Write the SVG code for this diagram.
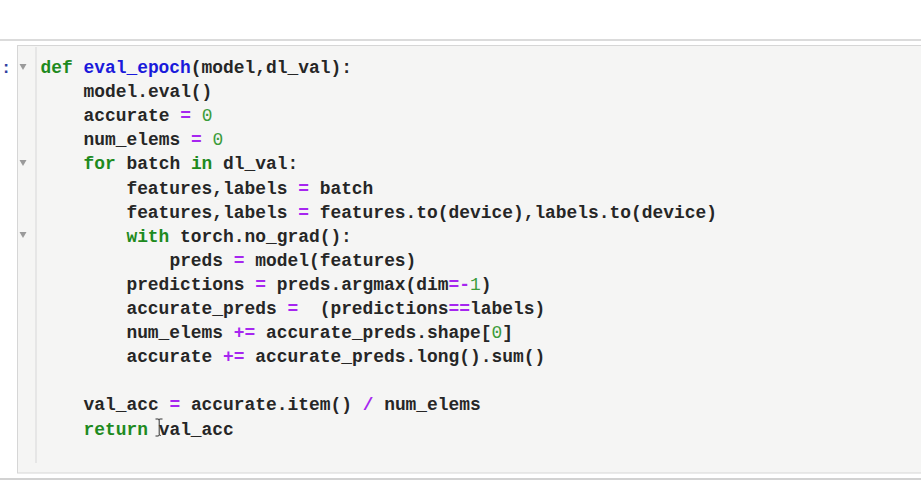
<svg xmlns="http://www.w3.org/2000/svg" width="921" height="492" viewBox="0 0 921 492">
<style>
.code text{font-family:"Liberation Mono","Courier New",monospace;font-size:17.9px;font-weight:bold;fill:#262626;white-space:pre}
.k{fill:#1e8a1e;font-weight:bold}
.f{fill:#1a1adb}
.o{fill:#a626f0}
.n{fill:#3b9c3b;font-weight:normal}
.tri{fill:#9a9a9a}
</style>
<rect x="0" y="0" width="921" height="492" fill="#ffffff"/>
<g id="frame">
<line x1="0" y1="40" x2="921" y2="40" stroke="#cfcfcf" stroke-width="1.5"/>
<rect x="17.5" y="45.5" width="910" height="427.5" fill="#f5f5f4" stroke="#d6d6d6" stroke-width="1"/>
<line x1="36" y1="47" x2="36" y2="463" stroke="#dcdcdc" stroke-width="1.2"/>
<line x1="0" y1="479" x2="921" y2="479" stroke="#d2d2d2" stroke-width="2"/>
<text x="1" y="73" style="font-family:'Liberation Mono',monospace;font-size:17px;font-weight:bold;fill:#303f9f">:</text>
</g>
<g id="gutter">
<polygon class="tri" points="19.5,64 26.5,64 23,70"/>
<polygon class="tri" points="19.5,160 26.5,160 23,166"/>
<polygon class="tri" points="19.5,232 26.5,232 23,238"/>
</g>
<g id="code" class="code">
<text x="40.5" y="73"><tspan class="k">def</tspan>&#160;<tspan class="f">eval_epoch</tspan>(model,dl_val):</text>
<text x="83.5" y="97.1">model.eval()</text>
<text x="83.5" y="121.2">accurate&#160;<tspan class="o">=</tspan>&#160;<tspan class="n">0</tspan></text>
<text x="83.5" y="145.3">num_elems&#160;<tspan class="o">=</tspan>&#160;<tspan class="n">0</tspan></text>
<text x="83.5" y="169.4"><tspan class="k">for</tspan>&#160;batch&#160;<tspan class="k">in</tspan>&#160;dl_val:</text>
<text x="126.4" y="193.5">features,labels&#160;<tspan class="o">=</tspan>&#160;batch</text>
<text x="126.4" y="217.6">features,labels&#160;<tspan class="o">=</tspan>&#160;features.to(device),labels.to(device)</text>
<text x="126.4" y="241.7"><tspan class="k">with</tspan>&#160;torch.no_grad():</text>
<text x="169.4" y="265.8">preds&#160;<tspan class="o">=</tspan>&#160;model(features)</text>
<text x="126.4" y="289.9">predictions&#160;<tspan class="o">=</tspan>&#160;preds.argmax(dim<tspan class="o">=-</tspan><tspan class="n">1</tspan>)</text>
<text x="126.4" y="314">accurate_preds&#160;<tspan class="o">=</tspan>&#160;&#160;(predictions<tspan class="o">==</tspan>labels)</text>
<text x="126.4" y="338.1">num_elems&#160;<tspan class="o">+=</tspan>&#160;accurate_preds.shape[<tspan class="n">0</tspan>]</text>
<text x="126.4" y="362.2">accurate&#160;<tspan class="o">+=</tspan>&#160;accurate_preds.long().sum()</text>
<text x="83.5" y="410.4">val_acc&#160;<tspan class="o">=</tspan>&#160;accurate.item()&#160;<tspan class="o">/</tspan>&#160;num_elems</text>
<text x="83.5" y="434.5"><tspan class="k">return</tspan>&#160;val_acc</text>
</g>
<g id="cursor">
<path d="M155.5,419 h2.5 q1.2,0 1.2,1.2 v14 q0,1.2 1.2,1.2 h0.6 M162.5,419 h-2.5 q-1.2,0 -1.2,1.2 M155.5,436 h2.5 q1.2,0 1.2,-1.2" fill="none" stroke="#333" stroke-width="1"/>
</g>
</svg>
